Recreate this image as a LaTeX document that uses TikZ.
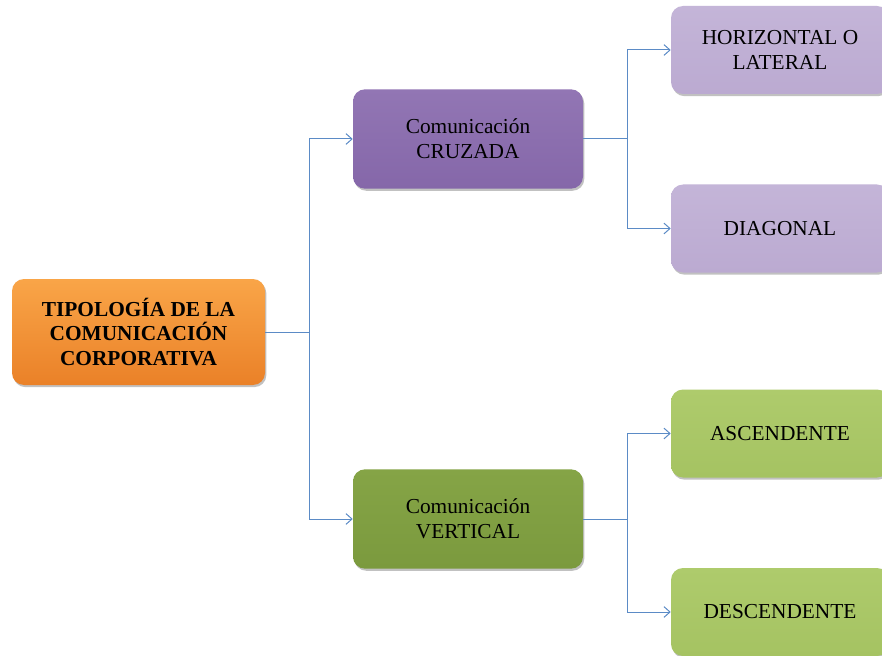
\documentclass[tikz,border=0pt]{standalone}
\usepackage{fontspec}
\setmainfont{Liberation Serif}
\usetikzlibrary{arrows.meta,shadows}
\definecolor{linkblue}{HTML}{5B8BC6}
\definecolor{rootA}{HTML}{F9A548}
\definecolor{rootB}{HTML}{EA8128}
\definecolor{cruzA}{HTML}{9276B4}
\definecolor{cruzB}{HTML}{8567A9}
\definecolor{vertA}{HTML}{85A446}
\definecolor{vertB}{HTML}{7B9A3E}
\definecolor{lilaA}{HTML}{C4B5D8}
\definecolor{lilaB}{HTML}{BBAAD1}
\definecolor{limeA}{HTML}{AECB6C}
\definecolor{limeB}{HTML}{A5C362}
\tikzset{
  box/.style={rounded corners=9pt, align=center, inner sep=2pt,
    font=\fontsize{16}{18.6}\selectfont,
    drop shadow={shadow xshift=1pt, shadow yshift=-1.6pt, opacity=0.4, fill=black!60}},
  rootbox/.style={box, minimum width=189.75pt, minimum height=79.5pt,
    top color=rootA, bottom color=rootB, font=\fontsize{16}{18.4}\selectfont\bfseries},
  midbox/.style={box, minimum width=172.5pt, minimum height=74.5pt},
  leafbox/.style={box, minimum width=163.5pt, minimum height=66pt},
  conn/.style={draw=linkblue, line width=0.75pt, -{Straight Barb[length=4.5pt,width=8pt]}},
  link/.style={draw=linkblue, line width=0.75pt}
}
\begin{document}
\begin{tikzpicture}[x=0.75pt, y=-0.75pt]
  \clip (0,0) rectangle (882,656);
  \fill[white] (0,0) rectangle (882,656);

  % boxes
  \node[rootbox] (root) at (138.5,332) {TIPOLOGÍA DE LA\\COMUNICACIÓN\\CORPORATIVA};
  \node[midbox, top color=cruzA, bottom color=cruzB] (cruz) at (468,139) {Comunicación\\CRUZADA};
  \node[midbox, top color=vertA, bottom color=vertB] (vert) at (468,519) {Comunicación\\VERTICAL};
  \node[leafbox, top color=lilaA, bottom color=lilaB] (hor) at (780,50) {HORIZONTAL O\\LATERAL};
  \node[leafbox, top color=lilaA, bottom color=lilaB] (diag) at (780,228.5) {DIAGONAL};
  \node[leafbox, top color=limeA, bottom color=limeB] (asc) at (780,433.5) {ASCENDENTE};
  \node[leafbox, top color=limeA, bottom color=limeB] (desc) at (780,612) {DESCENDENTE};

  % branch points
  \coordinate (j1) at (309,332);
  \coordinate (j2) at (627,139);
  \coordinate (j3) at (627,519);

  % connectors
  \draw[link] (root.east) -- (j1);
  \draw[conn] (j1) |- (cruz.west);
  \draw[conn] (j1) |- (vert.west);
  \draw[link] (cruz.east) -- (j2);
  \draw[conn] (j2) |- (hor.west);
  \draw[conn] (j2) |- (diag.west);
  \draw[link] (vert.east) -- (j3);
  \draw[conn] (j3) |- (asc.west);
  \draw[conn] (j3) |- (desc.west);
\end{tikzpicture}
\end{document}
